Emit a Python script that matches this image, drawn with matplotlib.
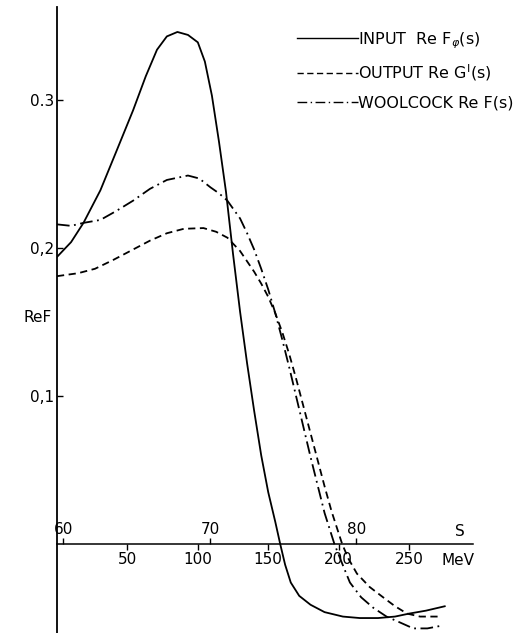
import matplotlib
matplotlib.use("Agg")
import matplotlib.pyplot as plt
from matplotlib.lines import Line2D

# ---- data ----
input_mev = [0, 10, 18.8, 30.8, 42, 54, 63, 71, 78, 85.5, 93, 100, 105, 110, 115, 120, 125,
             130, 135, 140, 145, 150, 155, 158.5, 162, 166, 172, 180, 190, 203, 215, 228, 240,
             250, 262, 275.5]
input_re = [0.194, 0.204, 0.217, 0.239, 0.265, 0.293, 0.316, 0.334, 0.343, 0.346, 0.344, 0.339,
            0.326, 0.303, 0.272, 0.238, 0.196, 0.157, 0.122, 0.090, 0.060, 0.035, 0.015, 0.0,
            -0.014, -0.026, -0.035, -0.041, -0.046, -0.049, -0.050, -0.050, -0.049, -0.047,
            -0.045, -0.042]

output_mev = [0, 15, 27, 40, 54, 66, 78, 90, 104, 113, 121, 125, 130, 135, 140, 145, 150, 155,
              160, 165, 170, 175, 180, 185, 190, 195, 202.5, 207, 213, 222, 231.6, 240, 248.6,
              257.8, 273]
output_re = [0.181, 0.183, 0.186, 0.192, 0.199, 0.205, 0.210, 0.213, 0.2135, 0.211, 0.207,
             0.203, 0.198, 0.191, 0.184, 0.176, 0.167, 0.156, 0.143, 0.128, 0.111, 0.093, 0.075,
             0.057, 0.039, 0.022, 0.0, -0.010, -0.020, -0.029, -0.036, -0.042, -0.047, -0.049,
             -0.049]

woolcock_mev = [0, 10, 18.8, 30.8, 42, 54, 66, 78, 93, 101, 109, 115, 121, 130, 135, 140, 145,
                150, 155, 160, 165, 170, 175, 180, 185, 190, 197, 202, 208, 216, 224.5, 234,
                243.6, 253, 263, 274]
woolcock_re = [0.216, 0.215, 0.217, 0.219, 0.225, 0.232, 0.240, 0.246, 0.249, 0.247, 0.241,
               0.237, 0.232, 0.220, 0.210, 0.199, 0.186, 0.172, 0.156, 0.138, 0.119, 0.099,
               0.079, 0.059, 0.040, 0.021, 0.0, -0.012, -0.026, -0.036, -0.043, -0.049, -0.053,
               -0.057, -0.057, -0.055]

y_ticks = [0.1, 0.2, 0.3]
y_tick_labels = ["0,1", "0,2", "0.3"]
mev_ticks = [50, 100, 150, 200, 250]
s_ticks = [60, 70, 80]
legend_labels = ["INPUT  Re F$_{\\varphi}$(s)", "OUTPUT Re G$^{\\mathrm{I}}$(s)", "WOOLCOCK Re F(s)"]

# S <-> MeV relation
def mev_to_s(m):
    return 60 + (m - 4.6) / 10.4

def s_to_mev(s):
    return (s - 60) * 10.4 + 4.6

W, H = 523, 633
fig = plt.figure(figsize=(W / 100, H / 100), dpi=100)
ax = fig.add_axes([57 / W, 0, (473 - 57) / W, 1])
ax.set_xlim(0, 295.4)
ax.set_ylim(-0.0601, 0.3676)

lw = 1.3
ax.plot(input_mev, input_re, color="black", lw=lw, solid_capstyle="round")
ax.plot(output_mev, output_re, color="black", lw=lw, linestyle=(0, (4, 2.5)))
ax.plot(woolcock_mev, woolcock_re, color="black", lw=lw, linestyle=(0, (7, 2.5, 1, 2.5)))

for sp in ["top", "right"]:
    ax.spines[sp].set_visible(False)
ax.spines["left"].set_linewidth(1.3)
ax.spines["left"].set_bounds(-0.0601, 0.363)
ax.spines["bottom"].set_position(("data", 0))
ax.spines["bottom"].set_linewidth(1.1)

fs = 11
ax.set_yticks(y_ticks)
ax.set_yticklabels(y_tick_labels)
ax.tick_params(axis="y", direction="in", length=4, width=1, labelsize=fs, pad=2)
ax.set_xticks(mev_ticks)
ax.tick_params(axis="x", direction="out", length=4, width=1, labelsize=fs, pad=2)

# S scale on top of the same line
y0, y1 = ax.get_ylim()
loc = (0 - y0) / (y1 - y0)
sec = ax.secondary_xaxis(loc, functions=(mev_to_s, s_to_mev))
sec.set_alignment("top")
sec.set_xticks(s_ticks)
sec.tick_params(direction="out", length=4, width=1, labelsize=fs, pad=1)
sec.spines["top"].set_visible(False)
sec.spines["bottom"].set_visible(False)

ax.text(286, 0.0085, "S", fontsize=fs, ha="center", va="center")
ax.text(285, -0.0108, "MeV", fontsize=fs, ha="center", va="center")
ax.text(-14, 0.153, "ReF", fontsize=fs, ha="center", va="center", clip_on=False)

handles = [Line2D([], [], color="black", lw=1.0),
           Line2D([], [], color="black", lw=1.0, linestyle=(0, (4.5, 2.5))),
           Line2D([], [], color="black", lw=1.0, linestyle=(0, (7, 2.5, 1, 2.5)))]
leg = ax.legend(handles, legend_labels, loc="upper left", bbox_to_anchor=(297 / W, 1 - 30 / H),
                bbox_transform=fig.transFigure, frameon=False, fontsize=11.5, handlelength=3.8,
                handletextpad=0.05, labelspacing=0.75, borderpad=0, borderaxespad=0)

fig.savefig("out.png", dpi=100)
